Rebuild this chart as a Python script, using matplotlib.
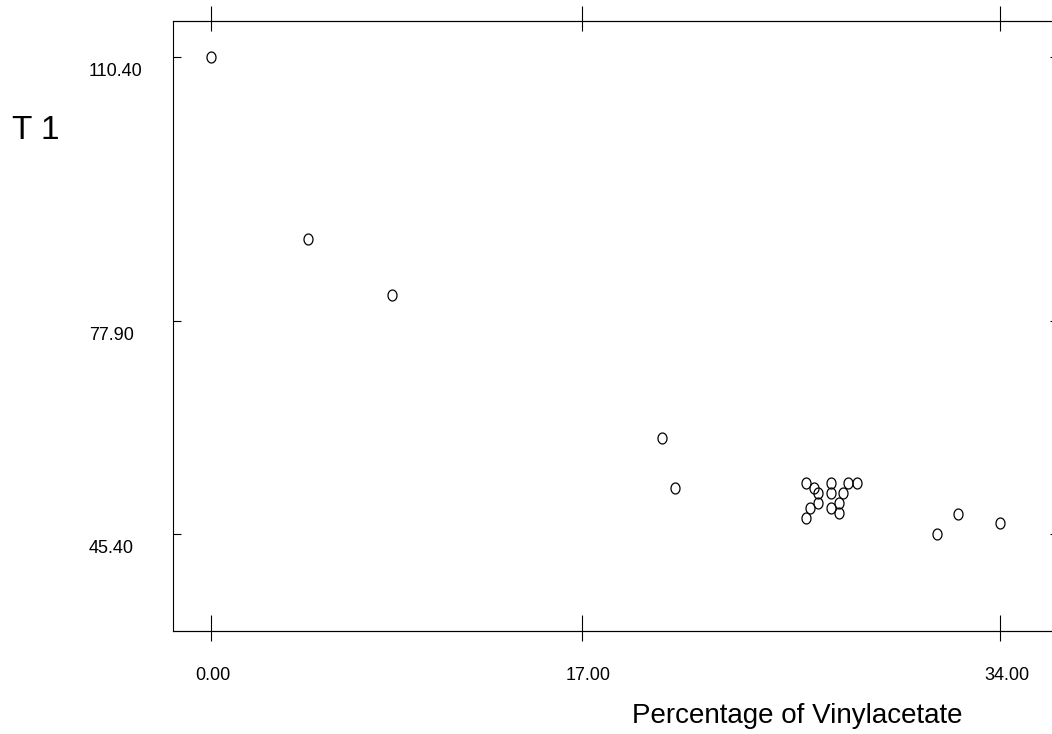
import numpy as np
import matplotlib
matplotlib.use("Agg")
import matplotlib.pyplot as plt
from matplotlib.path import Path
from matplotlib.transforms import ScaledTranslation

plt.rcParams['font.family'] = ['Liberation Sans', 'DejaVu Sans']

# Vinylacetate content (%) and T1 for each sample
vinyl = [0.0, 4.19, 7.81, 19.45, 19.99,
         25.63, 26.00, 26.17, 26.17, 25.81, 25.63, 26.72, 26.72, 26.72,
         27.08, 27.08, 27.25, 27.45, 27.82,
         31.27, 32.18, 34.0]
t1 = [110.4, 85.53, 77.91, 58.51, 51.62,
      52.39, 51.62, 51.02, 49.58, 48.90, 47.54, 52.39, 51.02, 48.90,
      49.58, 48.22, 51.02, 52.39, 52.39,
      45.4, 48.12, 46.86]

# tick positions and their printed labels
xtick_pos = [0.0, 15.99, 34.0]
xtick_lab = ['0.00', '17.00', '34.00']
ytick_pos = [45.4, 74.45, 110.4]
ytick_lab = ['45.40', '77.90', '110.40']

# slightly tall open ellipse as marker
th = np.linspace(0, 2 * np.pi, 60)
ellipse = Path(np.column_stack([0.82 * np.cos(th), np.sin(th)]), closed=True)

fig = plt.figure(figsize=(10.52, 7.34), dpi=100)
ax = fig.add_axes([0.1647, 0.1407, 0.841, 0.8307])

ax.plot(vinyl, t1, linestyle='none', marker=ellipse, markersize=7.9,
        markerfacecolor='none', markeredgecolor='black', markeredgewidth=0.9)

ax.set_xlim(-1.62, 36.5)
ax.set_ylim(32.23, 115.26)

for s in ax.spines.values():
    s.set_linewidth(0.8)

# bottom x ticks: inner part with the labels
ax.set_xticks(xtick_pos)
ax.set_xticklabels(xtick_lab)
ax.tick_params(axis='x', direction='in', length=11.5, width=0.8,
               top=False, labelsize=13, pad=26)
for lab in ax.get_xticklabels():
    lab.set_ha('left')
    lab.set_transform(lab.get_transform() + ScaledTranslation(-0.16, 0, fig.dpi_scale_trans))

# bottom x ticks: short outer part
bot = ax.secondary_xaxis('bottom')
bot.set_xticks(xtick_pos)
bot.tick_params(direction='out', length=7.2, width=0.8, labelbottom=False)
bot.spines['bottom'].set_linewidth(0.8)

# top ticks: long part outside, short part inside
top = ax.secondary_xaxis('top')
top.xaxis.remove_overlapping_locs = False
top.set_xticks(xtick_pos)
top.set_xticks(xtick_pos, minor=True)
top.tick_params(which='major', direction='out', length=10.8, width=0.8, labeltop=False)
top.tick_params(which='minor', direction='in', length=7.2, width=0.8)
top.spines['top'].set_linewidth(0.8)

# y ticks inward on both sides, labels left aligned further out
ax.set_yticks(ytick_pos)
ax.set_yticklabels(ytick_lab)
ax.tick_params(axis='y', direction='in', length=5.8, width=0.8, right=True,
               labelsize=13, pad=0)
for lab in ax.get_yticklabels():
    lab.set_ha('left')
    lab.set_transform(lab.get_transform() + ScaledTranslation(-0.843, -0.125, fig.dpi_scale_trans))

ax.set_xlabel('Percentage of Vinylacetate', fontsize=20, ha='left', va='baseline')
ax.xaxis.set_label_coords(0.5185, -0.1514)
ax.set_ylabel('T 1', fontsize=24, rotation=0, ha='left', va='baseline')
ax.yaxis.set_label_coords(-0.1823, 0.8065)

fig.savefig('out.png', dpi=100)
